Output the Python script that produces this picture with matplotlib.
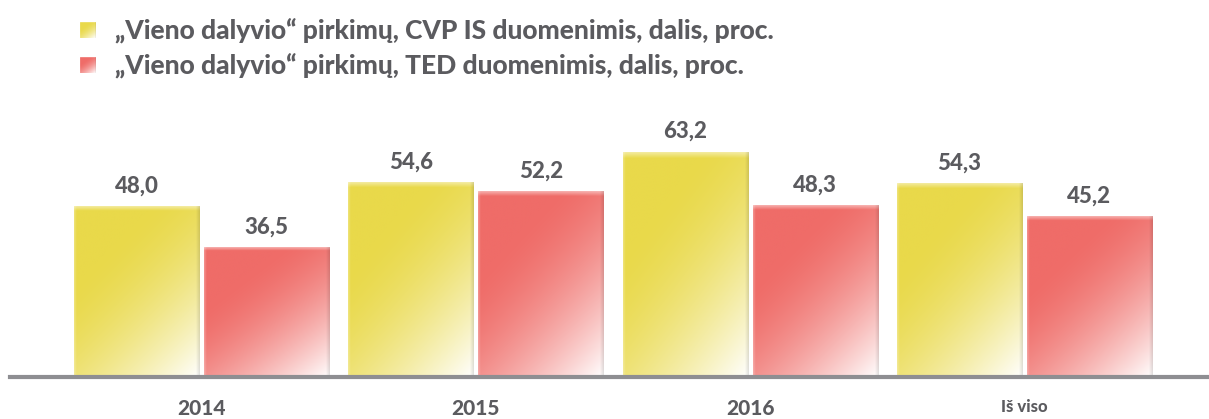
import numpy as np
import matplotlib
matplotlib.use("Agg")
import matplotlib.pyplot as plt

plt.rcParams['font.family'] = ['Lato', 'DejaVu Sans']

# data
categories = ["2014", "2015", "2016", "Iš viso"]
cvp_is = [48.0, 54.6, 63.2, 54.3]
ted = [36.5, 52.2, 48.3, 45.2]
series_names = ["„Vieno dalyvio“ pirkimų, CVP IS duomenimis, dalis, proc.",
                "„Vieno dalyvio“ pirkimų, TED duomenimis, dalis, proc."]

yellow = np.array([233, 217, 74]) / 255.0
red = np.array([239, 108, 104]) / 255.0
text_col = "#5b5b5f"


def gradient(base, n=200):
    # diagonal fade to white towards bottom-right, light strip at top, dark right edge
    u = np.linspace(0, 1, n)[None, :]
    v = np.linspace(0, 1, n)[:, None]  # 0 at top, 1 at bottom
    t = np.clip((0.55 * u + 0.75 * v - 0.35) / 0.95, 0, 1) ** 1.6
    img = base[None, None, :] * (1 - t[..., None]) + np.ones(3) * t[..., None]
    top = np.clip(1 - v / 0.025, 0, 1) * 0.45
    img = img * (1 - top[..., None]) + top[..., None]
    right = np.clip((u - 0.97) / 0.03, 0, 1) * 0.12
    img = img * (1 - right[..., None])
    left = np.clip(1 - u / 0.02, 0, 1) * 0.25
    img = img * (1 - left[..., None]) + left[..., None]
    return np.clip(img, 0, 1)


fig = plt.figure(figsize=(12.09, 4.19), dpi=100)
ax = fig.add_axes([10 / 1209, 42 / 419, 1 - 10 / 1209, 377 / 419])

x = np.arange(len(categories))
w = 0.456
off = 0.237
ax.set_xlim(-0.698, 3.673)
ax.set_ylim(0, 105.9)

img_y = gradient(yellow)
img_r = gradient(red)
for xi, a, b in zip(x, cvp_is, ted):
    ax.imshow(img_y, extent=(xi - off - w / 2, xi - off + w / 2, 0, a),
              aspect='auto', origin='upper', zorder=2, interpolation='bilinear')
    ax.imshow(img_r, extent=(xi + off - w / 2, xi + off + w / 2, 0, b),
              aspect='auto', origin='upper', zorder=2, interpolation='bilinear')
    ax.annotate(f"{a:.1f}".replace(".", ","), (xi - off, a), xytext=(0, 10),
                textcoords='offset points', ha='center', va='baseline',
                fontsize=16, fontweight='black', color=text_col)
    ax.annotate(f"{b:.1f}".replace(".", ","), (xi + off, b), xytext=(0, 10),
                textcoords='offset points', ha='center', va='baseline',
                fontsize=16, fontweight='black', color=text_col)

ax.set_xticks(x)
ax.set_xticklabels(categories, fontsize=15, fontweight='black', color=text_col)
ax.get_xticklabels()[-1].set_fontsize(12)  # "Iš viso" is set smaller
ax.tick_params(axis='x', length=0, pad=16)
ax.set_yticks([])
for s in ['top', 'right', 'left']:
    ax.spines[s].set_visible(False)
ax.spines['bottom'].set_color('#8e8e92')
ax.spines['bottom'].set_linewidth(3)
ax.spines['bottom'].set_zorder(3)
ax.patch.set_alpha(0)

# legend drawn by hand
for i, (name, base) in enumerate(zip(series_names, [yellow, red])):
    yc = 1 - (30 + 35 * i) / 419
    sq = fig.add_axes([80 / 1209, yc - 8 / 419, 16 / 1209, 16 / 419])
    sq.imshow(gradient(base, 40), aspect='auto', interpolation='bilinear')
    sq.axis('off')
    fig.text(115 / 1209, yc, name, ha='left', va='center', fontsize=19,
             fontweight='black', color=text_col)

fig.savefig("out.png", dpi=100)
